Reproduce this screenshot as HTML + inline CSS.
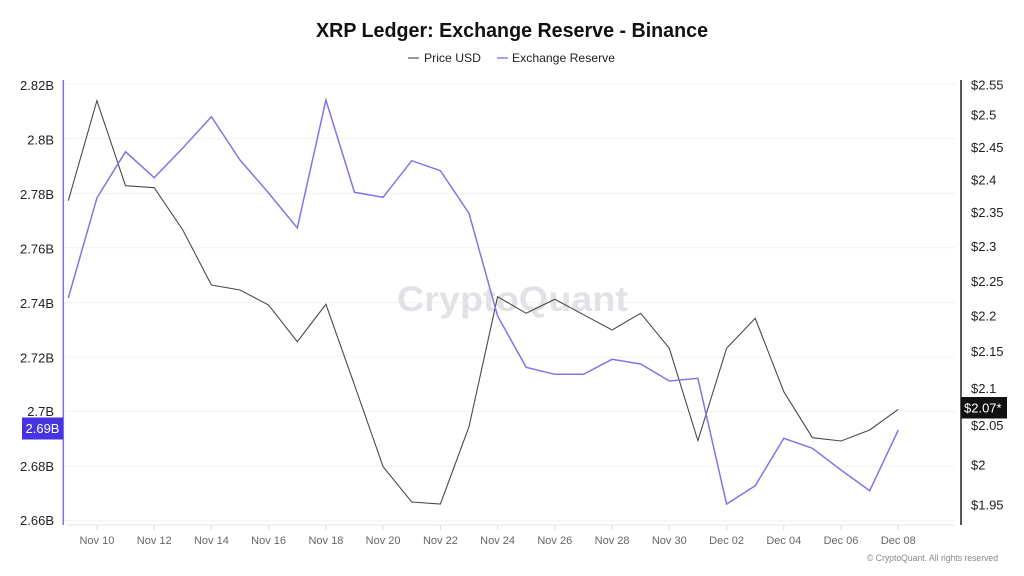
<!DOCTYPE html>
<html>
<head>
<meta charset="utf-8">
<style>
  html,body{margin:0;padding:0;background:#fff;}
  svg{display:block;}
  text{font-family:"Liberation Sans", Arial, sans-serif;}
</style>
</head>
<body>
<svg width="1024" height="576" viewBox="0 0 1024 576" xmlns="http://www.w3.org/2000/svg">
  <rect width="1024" height="576" fill="#ffffff"/>

  <!-- Title -->
  <text x="512" y="37" text-anchor="middle" font-size="20" font-weight="bold" fill="#111" textLength="392" lengthAdjust="spacingAndGlyphs">XRP Ledger: Exchange Reserve - Binance</text>

  <!-- Legend -->
  <line x1="408" y1="58" x2="419" y2="58" stroke="#555" stroke-width="1.2"/>
  <text x="424" y="62" font-size="12" fill="#222" textLength="57" lengthAdjust="spacingAndGlyphs">Price USD</text>
  <line x1="497" y1="58" x2="508" y2="58" stroke="#8a80f0" stroke-width="1.5"/>
  <text x="512" y="62" font-size="12" fill="#222" textLength="103" lengthAdjust="spacingAndGlyphs">Exchange Reserve</text>

  <!-- Gridlines -->
  <g stroke="#f1f1f1" stroke-width="1">
    <line x1="64" y1="84" x2="955" y2="84"/>
    <line x1="64" y1="138.6" x2="955" y2="138.6"/>
    <line x1="64" y1="193.2" x2="955" y2="193.2"/>
    <line x1="64" y1="247.8" x2="955" y2="247.8"/>
    <line x1="64" y1="302.4" x2="955" y2="302.4"/>
    <line x1="64" y1="357" x2="955" y2="357"/>
    <line x1="64" y1="411.6" x2="955" y2="411.6"/>
    <line x1="64" y1="466.2" x2="955" y2="466.2"/>
    <line x1="64" y1="520.8" x2="955" y2="520.8"/>
  </g>

  <!-- Watermark -->
  <text x="397" y="311" font-size="35" font-weight="bold" fill="#e2e2e6" textLength="231" lengthAdjust="spacingAndGlyphs">CryptoQuant</text>

  <!-- Bottom axis -->
  <line x1="66" y1="525" x2="955" y2="525" stroke="#e6e6e6" stroke-width="1"/>
  <g stroke="#dcdcdc" stroke-width="1">
    <line x1="96.9" y1="525" x2="96.9" y2="530"/>
    <line x1="154.2" y1="525" x2="154.2" y2="530"/>
    <line x1="211.4" y1="525" x2="211.4" y2="530"/>
    <line x1="268.6" y1="525" x2="268.6" y2="530"/>
    <line x1="325.9" y1="525" x2="325.9" y2="530"/>
    <line x1="383.1" y1="525" x2="383.1" y2="530"/>
    <line x1="440.4" y1="525" x2="440.4" y2="530"/>
    <line x1="497.6" y1="525" x2="497.6" y2="530"/>
    <line x1="554.8" y1="525" x2="554.8" y2="530"/>
    <line x1="612.1" y1="525" x2="612.1" y2="530"/>
    <line x1="669.3" y1="525" x2="669.3" y2="530"/>
    <line x1="726.6" y1="525" x2="726.6" y2="530"/>
    <line x1="783.8" y1="525" x2="783.8" y2="530"/>
    <line x1="841" y1="525" x2="841" y2="530"/>
    <line x1="898.3" y1="525" x2="898.3" y2="530"/>
  </g>
  <g font-size="11" fill="#666" text-anchor="middle">
    <text x="96.9" y="544">Nov 10</text>
    <text x="154.2" y="544">Nov 12</text>
    <text x="211.4" y="544">Nov 14</text>
    <text x="268.6" y="544">Nov 16</text>
    <text x="325.9" y="544">Nov 18</text>
    <text x="383.1" y="544">Nov 20</text>
    <text x="440.4" y="544">Nov 22</text>
    <text x="497.6" y="544">Nov 24</text>
    <text x="554.8" y="544">Nov 26</text>
    <text x="612.1" y="544">Nov 28</text>
    <text x="669.3" y="544">Nov 30</text>
    <text x="726.6" y="544">Dec 02</text>
    <text x="783.8" y="544">Dec 04</text>
    <text x="841" y="544">Dec 06</text>
    <text x="898.3" y="544">Dec 08</text>
  </g>

  <!-- Left axis -->
  <line x1="63.3" y1="80" x2="63.3" y2="525" stroke="#7b70ec" stroke-width="1.5"/>
  <g font-size="13" fill="#222" text-anchor="end">
    <text x="54" y="90">2.82B</text>
    <text x="54" y="144.5">2.8B</text>
    <text x="54" y="199">2.78B</text>
    <text x="54" y="253.5">2.76B</text>
    <text x="54" y="308">2.74B</text>
    <text x="54" y="362.5">2.72B</text>
    <text x="54" y="416">2.7B</text>
    <text x="54" y="471">2.68B</text>
    <text x="54" y="525">2.66B</text>
  </g>
  <rect x="22" y="417.5" width="41" height="22" fill="#4634e0"/>
  <text x="42.5" y="433" font-size="13" fill="#fff" text-anchor="middle">2.69B</text>

  <!-- Right axis -->
  <line x1="961" y1="80" x2="961" y2="525" stroke="#222" stroke-width="1.5"/>
  <g font-size="13" fill="#222">
    <text x="971" y="89.5">$2.55</text>
    <text x="971" y="119.5">$2.5</text>
    <text x="971" y="151.8">$2.45</text>
    <text x="971" y="184.5">$2.4</text>
    <text x="971" y="217.2">$2.35</text>
    <text x="971" y="251.2">$2.3</text>
    <text x="971" y="286.2">$2.25</text>
    <text x="971" y="320.5">$2.2</text>
    <text x="971" y="356.2">$2.15</text>
    <text x="971" y="392.8">$2.1</text>
    <text x="971" y="430.2">$2.05</text>
    <text x="971" y="469.5">$2</text>
    <text x="971" y="509.5">$1.95</text>
  </g>
  <rect x="961" y="397" width="46" height="21.5" fill="#111"/>
  <text x="964" y="412.5" font-size="13" fill="#fff">$2.07*</text>

  <!-- Price USD series -->
  <polyline fill="none" stroke="#4a4a4a" stroke-width="1.1" stroke-linejoin="miter"
    points="68.3,200.7 96.9,100.7 125.5,185.7 154.2,187.7 182.8,230 211.4,285 240,290 268.6,305 297.3,341.7 325.9,304.3 354.5,385 383.1,466.7 411.7,502 440.4,504 469,426.7 497.6,296.7 526.2,313.3 554.8,299.3 583.5,314.7 612.1,330 640.7,313.3 669.3,348.3 697.9,440.7 726.6,348.3 755.2,318.3 783.8,391.7 812.4,437.7 841,441 869.7,430 898.3,409.3"/>

  <!-- Exchange Reserve series -->
  <polyline fill="none" stroke="#7f76e6" stroke-width="1.5" stroke-linejoin="miter"
    points="68.3,298 96.9,198 125.5,151.7 154.2,177.7 182.8,148 211.4,116.7 240,160 268.6,193 297.3,228 325.9,100 354.5,192.3 383.1,197.3 411.7,160.7 440.4,170.7 469,213.3 497.6,316 526.2,367.3 554.8,374.3 583.5,374.3 612.1,359.3 640.7,364 669.3,381 697.9,378.3 726.6,504 755.2,485.7 783.8,438.3 812.4,448.3 841,470 869.7,490.7 898.3,430"/>

  <!-- Copyright -->
  <text x="867" y="561" font-size="9" fill="#888" textLength="131" lengthAdjust="spacingAndGlyphs">© CryptoQuant. All rights reserved</text>
</svg>
</body>
</html>
